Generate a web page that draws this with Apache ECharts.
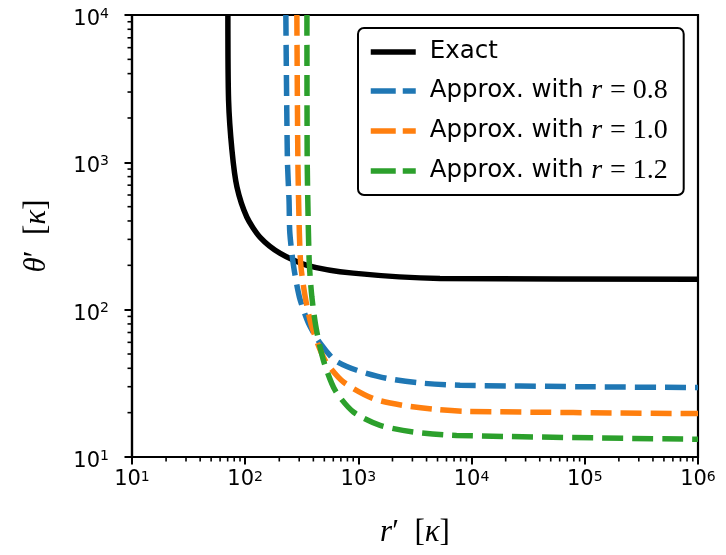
<!DOCTYPE html>
<html lang="en">
<head>
    <meta charset="UTF-8">
    <script src="https://cdn.jsdelivr.net/npm/echarts@6/dist/echarts.min.js"></script>
    <title>theta vs r</title>
    <style>
        html, body {margin: 0; padding: 0; background: #fff;}
    </style>
</head>
<body>

<div id="ec" style="width:726px;height:555px;"></div>

<script>
    // values (log-log)
    var seriesNames = ['Exact', 'Approx. with r=0.8', 'Approx. with r=1.0', 'Approx. with r=1.2'];
    var seriesColors = ['#000000', '#1f77b4', '#ff7f0e', '#2ca02c'];

    var exactR = [70.3, 71.3, 76.4, 84.6, 103.5, 135.5, 204, 351, 898, 5260, 1e6];
    var exactT = [10000, 2645, 1208, 678, 424, 310, 241, 200, 177, 163, 161];

    var blueR = [228.6, 236, 244, 248, 267, 301, 362, 459, 622, 968, 1782, 3510, 7910, 90600, 1e6];
    var blueT = [10000, 1032, 553, 330, 200, 122, 80.9, 59.2, 45.3, 38.8, 34.2, 31.8, 30.7, 30.0, 29.6];

    var orangeR = [286, 292, 301, 310, 339, 388, 508, 738, 1355, 2494, 4920, 9060, 1e6];
    var orangeT = [10000, 1032, 330, 200, 122, 76.4, 45.3, 32.3, 24.9, 22.4, 21.0, 20.4, 19.7];

    var greenR = [351, 353, 362, 369, 388, 424, 491, 622, 904, 1556, 3054, 7380, 1e6];
    var greenT = [10000, 1032, 330, 200, 122, 74.5, 45.3, 28.4, 20.2, 16.4, 14.8, 14.0, 13.2];

    var xTicks = [1e1, 1e2, 1e3, 1e4, 1e5, 1e6];
    var yTicks = [1e1, 1e2, 1e3, 1e4];

    var xMin = 10, xMax = 1e6;
    var yMin = 10, yMax = 1e4;

    function pairs(xs, ys) {
        var out = [];
        for (var i = 0; i < xs.length; i++) out.push([xs[i], ys[i]]);
        return out;
    }

    // minor ticks at 2..9 x 10^k
    function minorTicks(lo, hi) {
        var v = [];
        for (var p = lo; p < hi; p *= 10) {
            for (var d = 2; d <= 9; d++) v.push(d * p);
        }
        return v;
    }
    var xMinor = minorTicks(xMin, xMax).map(function (v) { return [v, yMin]; });
    var yMinor = minorTicks(yMin, yMax).map(function (v) { return [xMin, v]; });

    var mathRich = {
        i: {fontFamily: 'Liberation Serif', fontStyle: 'italic', fontSize: 31, color: '#000'},
        p: {fontFamily: 'Liberation Serif', fontSize: 31, color: '#000'}
    };

    var labelColor = '#000';
    var baseW = 26.7, supW = 9;

    // one text piece, left edge at x, vertical centre at y
    function piece(x, y, str, size) {
        return {
            type: 'text', x: x, y: y,
            style: {
                text: str, fontFamily: 'DejaVu Sans', fontSize: size, fill: labelColor,
                align: 'left', textAlign: 'left', verticalAlign: 'middle', textVerticalAlign: 'middle'
            }
        };
    }
    // "10" + raised exponent; left = left edge of the "10"
    function powText(left, yBase, ySup, e) {
        return {type: 'group', children: [piece(left, yBase, '10', 21), piece(left + baseW, ySup, String(e), 14)]};
    }

    var dash = [21, 9];
    var lineData = [pairs(exactR, exactT), pairs(blueR, blueT), pairs(orangeR, orangeT), pairs(greenR, greenT)];
    var series = lineData.map(function (d, i) {
        return {
            name: seriesNames[i],
            type: 'line',
            data: d,
            symbol: 'none',
            smooth: 0.25,
            clip: true,
            z: 3 + i,
            lineStyle: {color: seriesColors[i], width: 5.5, type: i === 0 ? 'solid' : dash, cap: 'butt'},
            itemStyle: {color: seriesColors[i]}
        };
    });

    series.push({
        type: 'custom',
        silent: true,
        data: xMinor,
        renderItem: function (params, api) {
            var pt = api.coord([api.value(0), api.value(1)]);
            return {type: 'line', shape: {x1: pt[0], y1: pt[1], x2: pt[0], y2: pt[1] + 4.5},
                style: {stroke: '#000', lineWidth: 1.6}};
        }
    });
    series.push({
        type: 'custom',
        silent: true,
        data: yMinor,
        renderItem: function (params, api) {
            var pt = api.coord([api.value(0), api.value(1)]);
            return {type: 'line', shape: {x1: pt[0] - 4.5, y1: pt[1], x2: pt[0], y2: pt[1]},
                style: {stroke: '#000', lineWidth: 1.6}};
        }
    });
    // tick labels 10^n
    series.push({
        type: 'custom',
        silent: true,
        clip: false,
        data: xTicks.map(function (v) { return [v, yMin]; }),
        renderItem: function (params, api) {
            var v = api.value(0);
            var pt = api.coord([v, api.value(1)]);
            return powText(pt[0] - (baseW + supW) / 2, pt[1] + 23, pt[1] + 20, Math.round(Math.log10(v)));
        }
    });
    series.push({
        type: 'custom',
        silent: true,
        clip: false,
        data: yTicks.map(function (v) { return [xMin, v]; }),
        renderItem: function (params, api) {
            var v = api.value(1);
            var pt = api.coord([api.value(0), v]);
            return powText(pt[0] - 23 - baseW - supW, pt[1] + 4.5, pt[1] - 1, Math.round(Math.log10(v)));
        }
    });

    var legendData = seriesNames.map(function (n, i) {
        return {
            name: n,
            itemStyle: {opacity: 0, color: 'transparent', borderWidth: 0},
            lineStyle: {color: seriesColors[i], width: 5.5, type: i === 0 ? 'solid' : [25, 7], cap: 'butt', opacity: 1}
        };
    });

    var chart = echarts.init(document.getElementById('ec'), null, {renderer: 'canvas'});
    chart.setOption({
        animation: false,
        backgroundColor: '#fff',
        grid: {left: 132, top: 15, right: 28, bottom: 98, show: true, borderColor: '#000', borderWidth: 2.2},
        legend: {
            data: legendData,
            orient: 'vertical',
            left: 358,
            top: 28,
            padding: [11, 16, 10, 10],
            itemWidth: 45,
            itemHeight: 14,
            itemGap: 12,
            backgroundColor: '#fff',
            borderColor: '#000',
            borderWidth: 2,
            borderRadius: 6,
            formatter: function (name) {
                return name.replace(/r=(\S+)/, '{m|r} {n|= $1}');
            },
            textStyle: {
                fontFamily: 'DejaVu Sans', fontSize: 24.5, color: '#000', lineHeight: 26, padding: [0, 0, 0, 9],
                rich: {
                    m: {fontFamily: 'Liberation Serif', fontStyle: 'italic', fontSize: 28, color: '#000'},
                    n: {fontFamily: 'Liberation Serif', fontSize: 28, color: '#000'}
                }
            }
        },
        xAxis: {
            type: 'log',
            min: xMin,
            max: xMax,
            logBase: 10,
            name: '{i|r}{p|′  [}{i|κ}{p|]}',
            nameLocation: 'middle',
            nameGap: 60,
            nameTextStyle: {fontFamily: 'Liberation Serif', fontSize: 31, color: '#000', rich: mathRich},
            axisLine: {lineStyle: {color: '#000', width: 2.2}},
            axisTick: {inside: false, length: 7.5, lineStyle: {color: '#000', width: 2}},
            axisLabel: {show: false},
            splitLine: {show: false}
        },
        yAxis: {
            type: 'log',
            min: yMin,
            max: yMax,
            logBase: 10,
            name: '{i|θ}{p|′  [}{i|κ}{p|]}',
            nameLocation: 'middle',
            nameGap: 80,
            nameTextStyle: {fontFamily: 'Liberation Serif', fontSize: 32, color: '#000', rich: mathRich},
            axisLine: {lineStyle: {color: '#000', width: 2.2}},
            axisTick: {inside: false, length: 7.5, lineStyle: {color: '#000', width: 2}},
            axisLabel: {show: false},
            splitLine: {show: false}
        },
        series: series
    });
</script>

</body>
</html>
